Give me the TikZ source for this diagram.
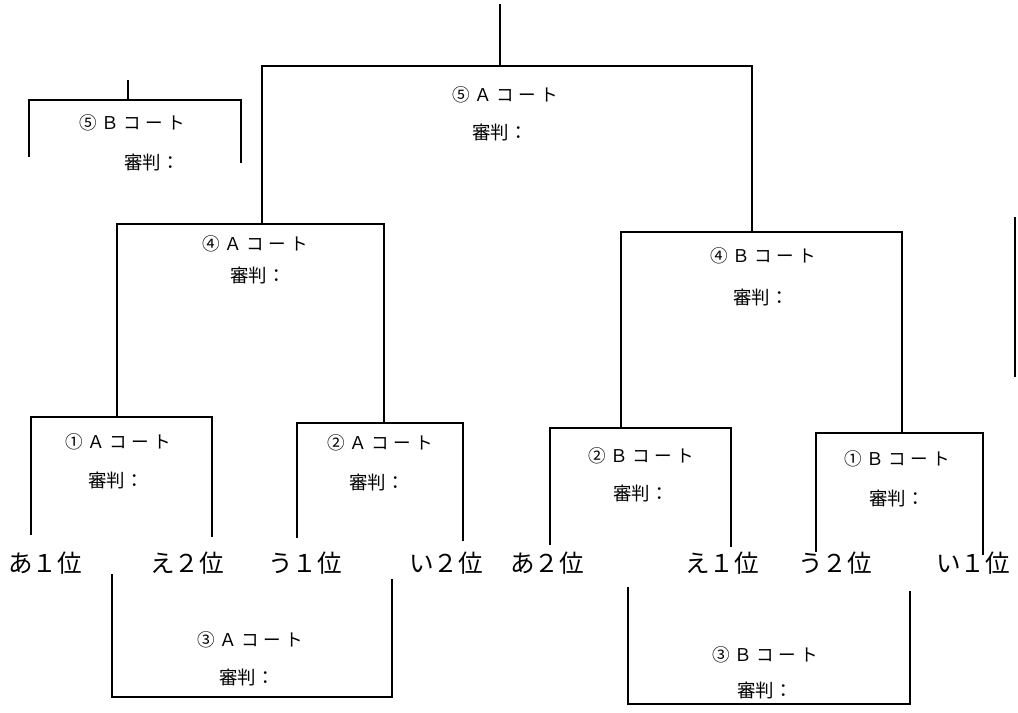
\documentclass[tikz,border=0pt]{standalone}
\usepackage{fontspec}
\usepackage{tikz}
\newfontfamily\jpfont{Noto Sans CJK JP}
\newfontfamily\courtfont[LetterSpace=25]{Noto Sans CJK JP}

\begin{document}
\begin{tikzpicture}[x=0.02cm, y=-0.02cm,
    bar/.style={line width=1.1pt, line join=miter},
    court/.style={font=\courtfont\fontsize{10}{11}\selectfont, inner sep=0pt},
    judge/.style={font=\jpfont\fontsize{10.5}{12}\selectfont, inner sep=0pt},
    rank/.style={font=\jpfont\fontsize{14}{16}\selectfont, inner sep=0pt}]

    \useasboundingbox (0,0) rectangle (1018,713);

    % match points
    \coordinate (top) at (500,4);
    \coordinate (m5A) at (500,66);
    \coordinate (m4A) at (262,224);
    \coordinate (m4B) at (752,232);
    \coordinate (m1A) at (117,417);
    \coordinate (m2A) at (384,423);
    \coordinate (m2B) at (621,428);
    \coordinate (m1B) at (902,433);

    % free leg ends
    \coordinate (l1A) at (31,535);
    \coordinate (r1A) at (212,537);
    \coordinate (l2A) at (297,538);
    \coordinate (r2A) at (463,541);
    \coordinate (l2B) at (550,545);
    \coordinate (r2B) at (731,547);
    \coordinate (l1B) at (816,552);
    \coordinate (r1B) at (983,555);

    \coordinate (l3A) at (112,574);
    \coordinate (r3A) at (392,579);
    \coordinate (b3A) at (250,697);
    \coordinate (l3B) at (628,587);
    \coordinate (r3B) at (910,591);
    \coordinate (b3B) at (768,704);

    \coordinate (s5B) at (128,80);
    \coordinate (m5B) at (128,100);
    \coordinate (l5B) at (29,157);
    \coordinate (r5B) at (241,163);

    \coordinate (edgeT) at (1015,217);
    \coordinate (edgeB) at (1015,377);

    % brackets
    \draw[bar] (top) -- (m5A);
    \draw[bar] (m4A) |- (m5A) -| (m4B);
    \draw[bar] (m1A) |- (m4A) -| (m2A);
    \draw[bar] (m2B) |- (m4B) -| (m1B);
    \draw[bar] (l1A) |- (m1A) -| (r1A);
    \draw[bar] (l2A) |- (m2A) -| (r2A);
    \draw[bar] (l2B) |- (m2B) -| (r2B);
    \draw[bar] (l1B) |- (m1B) -| (r1B);
    \draw[bar] (l3A) |- (b3A) -| (r3A);
    \draw[bar] (l3B) |- (b3B) -| (r3B);
    \draw[bar] (s5B) -- (m5B);
    \draw[bar] (l5B) |- (m5B) -| (r5B);
    \draw[bar] (edgeT) -- (edgeB);

    % courts and judges
    \node[court] (t5A) at (505,95) {⑤Ａコート};
    \node[judge] (j5A) at (500,133) {審判：};
    \node[court] (t5B) at (132,123) {⑤Ｂコート};
    \node[judge] (j5B) at (152,162) {審判：};
    \node[court] (t4A) at (255,244) {④Ａコート};
    \node[judge] (j4A) at (258,275) {審判：};
    \node[court] (t4B) at (763,256) {④Ｂコート};
    \node[judge] (j4B) at (761,297) {審判：};
    \node[court] (t1A) at (118,442) {①Ａコート};
    \node[judge] (j1A) at (116,480) {審判：};
    \node[court] (t2A) at (380,443) {②Ａコート};
    \node[judge] (j2A) at (377,482) {審判：};
    \node[court] (t2B) at (641,456) {②Ｂコート};
    \node[judge] (j2B) at (641,493) {審判：};
    \node[court] (t1B) at (897,459) {①Ｂコート};
    \node[judge] (j1B) at (897,498) {審判：};
    \node[court] (t3A) at (250,640) {③Ａコート};
    \node[judge] (j3A) at (247,677) {審判：};
    \node[court] (t3B) at (765,655) {③Ｂコート};
    \node[judge] (j3B) at (765,690) {審判：};

    % ranks
    \node[rank] (a1) at (45,563) {あ１位};
    \node[rank] (e2) at (187,563) {え２位};
    \node[rank] (u1) at (305,563) {う１位};
    \node[rank] (i2) at (446,563) {い２位};
    \node[rank] (a2) at (547,563) {あ２位};
    \node[rank] (e1) at (722,563) {え１位};
    \node[rank] (u2) at (835,563) {う２位};
    \node[rank] (i1) at (973,563) {い１位};

\end{tikzpicture}
\end{document}
